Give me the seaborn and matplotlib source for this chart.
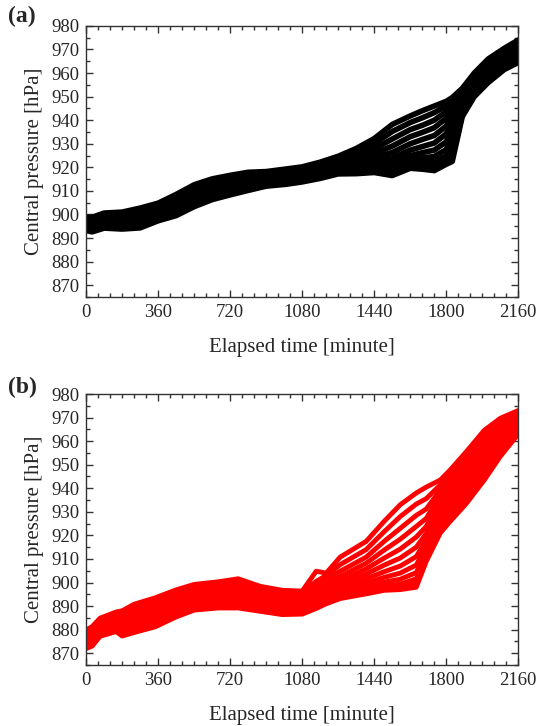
import numpy as np
import pandas as pd
import seaborn as sns
import matplotlib.pyplot as plt
from matplotlib.ticker import MultipleLocator

# ---- panel (a): ensemble members, central pressure [hPa] ----
time_a = [0, 30, 90, 180, 270, 360, 450, 540, 630, 720, 810, 900, 1000, 1080, 1170,
          1260, 1350, 1440, 1530, 1620, 1680, 1740, 1800, 1830, 1880, 1940, 2010, 2090, 2160]

a_m00 = [893.2, 892.6, 894.2, 893.8, 894.3, 897.3, 899.5, 903.3, 906.3, 908.3, 910.2, 912.0, 912.8, 913.8, 915.3,
         917.2, 917.3, 917.8, 916.5, 919.6, 919.2, 918.6, 921.3, 922.5, 941.5, 950.0, 956.0, 961.5, 964.5]
a_m01 = [893.8, 893.2, 894.8, 894.5, 895.1, 898.0, 900.3, 904.1, 907.1, 909.1, 910.9, 912.6, 913.4, 914.4, 915.9,
         917.8, 917.9, 918.4, 918.0, 920.2, 920.0, 919.6, 922.0, 924.5, 942.3, 950.9, 956.9, 962.3, 965.4]
a_m02 = [894.3, 893.8, 895.4, 895.2, 895.9, 898.7, 901.1, 904.9, 907.9, 909.9, 911.6, 913.2, 914.0, 915.0, 916.5,
         918.4, 918.5, 919.0, 918.8, 921.0, 921.0, 920.8, 923.0, 927.5, 943.2, 951.8, 957.8, 963.1, 966.3]
a_m03 = [894.8, 894.4, 896.0, 895.9, 896.7, 899.4, 901.9, 905.7, 908.7, 910.6, 912.3, 913.8, 914.6, 915.6, 917.1,
         919.0, 919.1, 919.6, 919.7, 922.0, 922.3, 922.4, 924.8, 930.8, 944.2, 952.7, 958.7, 963.9, 967.2]
a_m04 = [895.3, 895.0, 896.6, 896.6, 897.5, 900.1, 902.7, 906.6, 909.5, 911.3, 913.0, 914.4, 915.2, 916.2, 917.7,
         919.6, 919.8, 920.4, 920.8, 923.3, 924.0, 924.6, 927.5, 934.0, 945.2, 953.6, 959.6, 964.7, 968.1]
a_m05 = [895.8, 895.6, 897.2, 897.3, 898.3, 900.8, 903.5, 907.5, 910.3, 912.0, 913.7, 915.0, 915.8, 916.8, 918.3,
         920.2, 920.6, 921.4, 922.2, 925.0, 926.2, 927.3, 930.8, 937.0, 946.3, 954.5, 960.5, 965.5, 969.0]
a_m06 = [896.3, 896.2, 897.8, 897.9, 899.0, 901.5, 904.3, 908.4, 911.1, 912.8, 914.4, 915.6, 916.4, 917.4, 919.0,
         920.9, 921.5, 922.6, 924.0, 927.3, 928.8, 930.3, 934.2, 939.8, 947.4, 955.4, 961.4, 966.3, 969.9]
a_m07 = [896.8, 896.8, 898.4, 898.5, 899.8, 902.2, 905.1, 909.3, 911.9, 913.6, 915.1, 916.2, 917.0, 918.0, 919.7,
         921.6, 922.5, 924.0, 926.3, 930.0, 931.8, 933.5, 937.5, 942.3, 948.6, 956.3, 962.3, 967.1, 970.8]
a_m08 = [897.3, 897.3, 899.0, 899.2, 900.6, 902.9, 905.9, 910.2, 912.7, 914.4, 915.8, 916.8, 917.6, 918.6, 920.4,
         922.4, 923.7, 925.8, 929.0, 933.0, 934.8, 936.8, 940.8, 944.5, 949.8, 957.2, 963.2, 967.9, 971.7]
a_m09 = [897.8, 897.8, 899.6, 899.8, 901.3, 903.6, 906.7, 911.0, 913.5, 915.2, 916.5, 917.4, 918.2, 919.2, 921.0,
         923.2, 925.0, 927.8, 932.0, 936.0, 937.8, 940.0, 943.6, 946.5, 951.0, 958.1, 964.1, 968.7, 972.5]
a_m10 = [898.3, 898.3, 900.1, 900.4, 902.0, 904.2, 907.6, 911.8, 914.3, 915.9, 917.2, 917.8, 918.8, 919.7, 921.6,
         924.0, 926.5, 930.0, 935.2, 939.0, 941.0, 943.2, 946.0, 948.2, 952.3, 959.0, 965.0, 969.6, 973.3]
a_m11 = [898.8, 898.8, 900.6, 901.0, 902.7, 904.8, 908.5, 912.6, 915.1, 916.6, 917.9, 918.2, 919.3, 920.2, 922.2,
         924.7, 928.0, 932.2, 938.2, 941.8, 944.0, 946.0, 948.0, 949.6, 953.5, 960.0, 966.0, 970.5, 974.0]

# ---- panel (b) ----
time_b = [0, 30, 70, 150, 180, 240, 345, 450, 540, 660, 760, 870, 980, 1080, 1150,
          1200, 1270, 1400, 1490, 1570, 1650, 1700, 1770, 1820, 1900, 1990, 2070, 2160]

b_m00 = [872.0, 873.0, 877.2, 879.2, 877.3, 878.8, 881.2, 885.4, 888.3, 889.2, 889.2, 887.8, 886.4, 886.6, 889.0,
         891.0, 893.2, 895.2, 896.7, 897.0, 898.0, 909.0, 921.0, 926.0, 933.5, 943.5, 953.5, 963.0]
b_m01 = [872.8, 874.0, 877.9, 879.9, 878.5, 879.9, 882.3, 886.4, 889.2, 890.1, 890.1, 888.7, 887.3, 887.6, 890.0,
         892.0, 894.0, 896.0, 897.5, 897.8, 899.5, 909.5, 922.5, 927.6, 935.5, 945.4, 955.0, 964.0]
b_m02 = [873.5, 874.8, 878.6, 880.6, 879.6, 881.0, 883.4, 887.4, 890.1, 891.0, 891.0, 889.6, 888.2, 888.5, 891.0,
         893.0, 894.8, 897.0, 898.6, 899.3, 901.6, 911.0, 924.2, 929.4, 937.5, 947.3, 956.5, 965.0]
b_m03 = [874.2, 875.6, 879.3, 881.4, 880.6, 882.1, 884.5, 888.4, 891.0, 891.9, 891.9, 890.5, 889.1, 889.4, 892.0,
         894.0, 895.6, 898.2, 900.2, 901.4, 904.2, 913.0, 926.0, 931.3, 939.5, 949.2, 958.0, 965.9]
b_m04 = [875.0, 876.4, 880.0, 882.2, 881.6, 883.2, 885.6, 889.4, 892.0, 892.8, 892.8, 891.4, 890.0, 890.3, 893.0,
         895.0, 896.6, 899.8, 902.2, 904.0, 907.4, 915.3, 928.0, 933.3, 941.5, 951.1, 959.5, 966.8]
b_m05 = [875.7, 877.2, 880.7, 883.0, 882.6, 884.3, 886.7, 890.4, 893.0, 893.7, 893.7, 892.3, 890.9, 891.2, 894.0,
         896.2, 897.8, 901.6, 904.6, 907.0, 911.0, 918.0, 930.2, 935.3, 943.5, 953.0, 961.0, 967.7]
b_m06 = [876.4, 878.0, 881.4, 883.8, 883.6, 885.4, 887.8, 891.5, 894.0, 894.6, 894.7, 893.2, 891.8, 892.1, 895.0,
         897.4, 899.2, 903.6, 907.4, 910.4, 915.0, 920.8, 932.5, 937.4, 945.5, 954.9, 962.5, 968.6]
b_m07 = [877.1, 878.8, 882.1, 884.6, 884.6, 886.5, 888.9, 892.6, 895.0, 895.6, 895.7, 894.1, 892.7, 893.0, 896.3,
         898.8, 900.8, 905.8, 910.4, 914.2, 919.3, 923.8, 934.8, 939.5, 947.5, 956.8, 964.0, 969.5]
b_m08 = [877.8, 879.5, 882.8, 885.3, 885.5, 887.6, 890.0, 893.7, 896.0, 896.6, 896.8, 895.0, 893.6, 894.0, 897.6,
         900.2, 902.6, 908.2, 913.8, 918.4, 923.8, 927.2, 937.0, 941.6, 949.5, 958.7, 965.5, 970.4]
b_m09 = [878.5, 880.2, 883.5, 886.0, 886.4, 888.7, 891.1, 894.8, 897.1, 897.8, 898.3, 896.0, 894.6, 895.0, 899.0,
         901.6, 904.8, 910.8, 917.5, 923.0, 928.5, 931.2, 939.2, 943.7, 951.5, 960.6, 967.0, 971.3]
b_m10 = [879.2, 880.8, 884.2, 886.8, 887.2, 889.8, 892.3, 895.9, 898.2, 899.1, 900.0, 897.2, 895.7, 895.8, 900.5,
         903.0, 907.6, 914.0, 921.6, 928.0, 933.3, 935.6, 941.4, 945.8, 953.5, 962.6, 968.4, 972.2]
b_m11 = [879.8, 881.3, 884.9, 887.5, 888.0, 890.8, 893.5, 896.9, 899.2, 900.3, 901.6, 898.4, 896.7, 896.4, 904.8,
         904.0, 910.8, 917.5, 926.0, 933.0, 938.0, 940.5, 943.5, 947.8, 955.5, 964.6, 969.7, 973.0]

members_a = [a_m00, a_m01, a_m02, a_m03, a_m04, a_m05, a_m06, a_m07, a_m08, a_m09, a_m10, a_m11]
members_b = [b_m00, b_m01, b_m02, b_m03, b_m04, b_m05, b_m06, b_m07, b_m08, b_m09, b_m10, b_m11]


def long_df(times, members):
    frames = []
    for i, vals in enumerate(members):
        frames.append(pd.DataFrame({'time': times, 'pressure': vals, 'member': i}))
    return pd.concat(frames, ignore_index=True)


df_a = long_df(time_a, members_a)
df_b = long_df(time_b, members_b)

sns.set_style('ticks')
plt.rcParams['font.family'] = ['Liberation Serif', 'DejaVu Serif']

fig = plt.figure(figsize=(5.45, 7.26), dpi=100)
ax_a = fig.add_axes([0.158, 0.591, 0.793, 0.3733])
ax_b = fig.add_axes([0.158, 0.084, 0.793, 0.3733])

panels = [(ax_a, df_a, 'black', 4.0), (ax_b, df_b, '#ff0000', 3.5)]
for ax, df, col, lw in panels:
    sns.lineplot(data=df, x='time', y='pressure', units='member', estimator=None,
                 color=col, lw=lw, legend=False, ax=ax,
                 solid_joinstyle='round', solid_capstyle='round')
    ax.set_xlim(0, 2160)
    ax.set_ylim(865, 980)
    ax.xaxis.set_major_locator(MultipleLocator(360))
    ax.xaxis.set_minor_locator(MultipleLocator(60))
    ax.yaxis.set_minor_locator(MultipleLocator(5))
    ax.set_yticks(np.arange(870, 981, 10))
    ax.tick_params(which='both', direction='in', top=True, right=True,
                   labelsize=13.5, width=1, color='#333333', pad=5)
    ax.tick_params(which='major', length=5)
    ax.tick_params(which='minor', length=3)
    for s in ax.spines.values():
        s.set_linewidth(1)
        s.set_color('#333333')
    ax.set_xlabel('Elapsed time [minute]', fontsize=15)
    ax.set_ylabel('Central pressure [hPa]', fontsize=15)
    ax.xaxis.set_label_coords(0.5, -0.150)
    ax.yaxis.set_label_coords(-0.098, 0.5)

fig.text(0.014, 0.977, '(a)', fontsize=17, fontweight='bold', va='center', ha='left')
fig.text(0.014, 0.466, '(b)', fontsize=17, fontweight='bold', va='center', ha='left')

fig.savefig('out.png', dpi=100)
